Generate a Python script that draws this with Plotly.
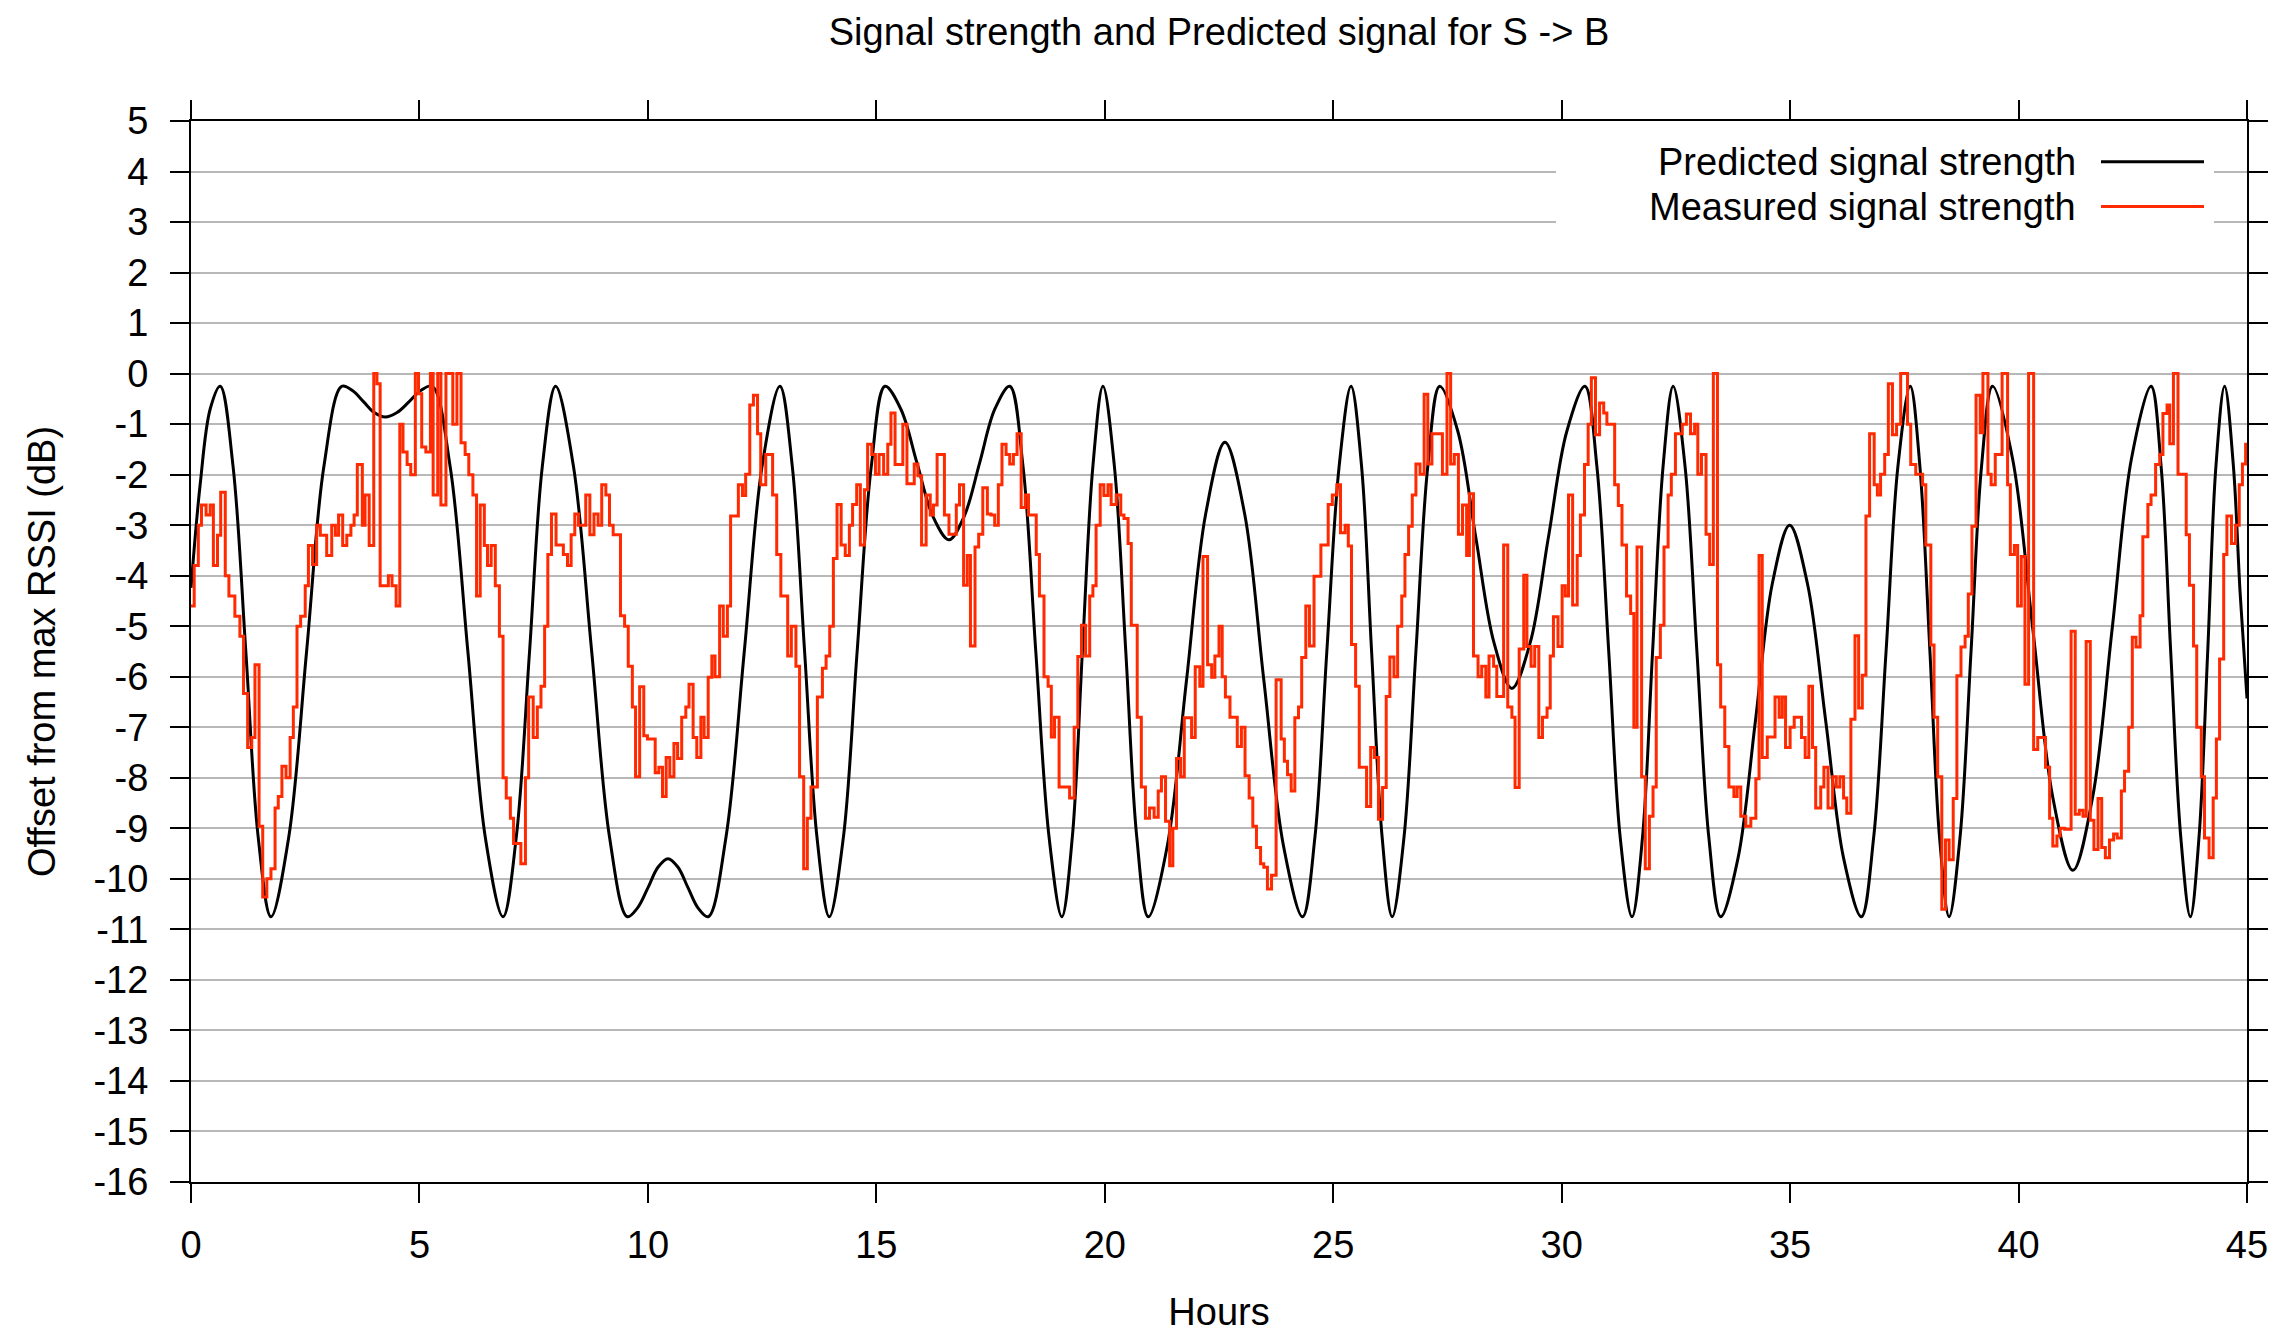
import plotly.graph_objects as go

# ---------------- data ----------------
PRED_HOURS = [0.00, 0.20, 0.42, 0.64, 0.92, 1.20, 1.47, 1.75, 2.14, 2.53, 2.91, 3.30, 3.54, 3.78, 4.01, 4.25,
              4.51, 4.77, 5.02, 5.28, 5.67, 6.06, 6.44, 6.83, 7.12, 7.41, 7.69, 7.98, 8.37, 8.77, 9.16, 9.55,
              9.77, 10.00, 10.22, 10.44, 10.66, 10.88, 11.10, 11.32, 11.71, 12.11, 12.50, 12.89, 13.16, 13.43,
              13.70, 13.97, 14.28, 14.58, 14.89, 15.19, 15.54, 15.89, 16.24, 16.59, 16.92, 17.26, 17.59, 17.92,
              18.21, 18.49, 18.78, 19.06, 19.29, 19.51, 19.74, 19.96, 20.21, 20.46, 20.70, 20.95, 21.37, 21.79,
              22.21, 22.63, 23.06, 23.48, 23.91, 24.33, 24.60, 24.86, 25.13, 25.39, 25.62, 25.84, 26.07, 26.29,
              26.55, 26.81, 27.07, 27.33, 27.73, 28.12, 28.52, 28.91, 29.31, 29.71, 30.11, 30.51, 30.77, 31.03,
              31.28, 31.54, 31.77, 31.99, 32.22, 32.44, 32.70, 32.96, 33.22, 33.48, 33.86, 34.24, 34.61, 34.99,
              35.38, 35.78, 36.17, 36.56, 36.83, 37.10, 37.36, 37.63, 37.84, 38.06, 38.27, 38.48, 38.72, 38.96,
              39.19, 39.43, 39.87, 40.31, 40.75, 41.19, 41.62, 42.05, 42.47, 42.90, 43.12, 43.33, 43.55, 43.76,
              43.95, 44.14, 44.32, 44.51, 44.70, 44.85, 45.00]
PRED_DB = [-4.24, -2.2, -0.7, -0.25, -1.83, -5.5, -9.17, -10.75, -9.17, -5.5, -1.83, -0.25, -0.34, -0.56, -0.77, -0.86,
           -0.77, -0.56, -0.34, -0.25, -1.83, -5.5, -9.17, -10.75, -9.17, -5.5, -1.83, -0.25, -1.83, -5.5, -9.17, -10.75,
           -10.58, -10.18, -9.77, -9.60, -9.77, -10.18, -10.58, -10.75, -9.17, -5.5, -1.83, -0.25, -1.83, -5.5,
           -9.17, -10.75, -9.17, -5.5, -1.83, -0.25, -0.71, -1.77, -2.83, -3.29, -2.83, -1.77, -0.71, -0.25,
           -1.83, -5.5, -9.17, -10.75, -9.17, -5.5, -1.83, -0.25, -1.83, -5.5, -9.17, -10.75, -9.34, -6.06,
           -2.77, -1.36, -2.77, -6.06, -9.34, -10.75, -9.17, -5.5, -1.83, -0.25, -1.83, -5.5, -9.17, -10.75,
           -9.17, -5.5, -1.83, -0.25, -1.15, -3.24, -5.33, -6.23, -5.33, -3.24, -1.15, -0.25, -1.83, -5.5,
           -9.17, -10.75, -9.17, -5.5, -1.83, -0.25, -1.83, -5.5, -9.17, -10.75, -9.59, -6.88, -4.16, -3.00,
           -4.16, -6.88, -9.59, -10.75, -9.17, -5.5, -1.83, -0.25, -1.83, -5.5, -9.17, -10.75, -9.17, -5.5,
           -1.83, -0.25, -1.69, -5.04, -8.39, -9.83, -8.39, -5.04, -1.69, -0.25, -1.83, -5.5, -9.17, -10.75,
           -9.17, -5.5, -1.83, -0.25, -1.8, -4.35, -6.43]

MEAS_HOURS = [0.00, 0.07, 0.16, 0.23, 0.33, 0.42, 0.49, 0.58, 0.65, 0.75, 0.83, 0.96, 1.07, 1.15, 1.24, 1.33, 1.40,
              1.49, 1.57, 1.66, 1.75, 1.84, 1.91, 1.99, 2.08, 2.17, 2.24, 2.32, 2.40, 2.50, 2.57, 2.66, 2.75, 2.83,
              2.97, 3.08, 3.16, 3.23, 3.32, 3.41, 3.50, 3.57, 3.64, 3.75, 3.81, 3.90, 4.00, 4.07, 4.14, 4.32, 4.40,
              4.49, 4.57, 4.64, 4.73, 4.81, 4.91, 4.98, 5.05, 5.14, 5.24, 5.30, 5.40, 5.47, 5.58, 5.73, 5.82, 5.91,
              6.00, 6.08, 6.17, 6.25, 6.33, 6.42, 6.49, 6.57, 6.66, 6.75, 6.83, 6.90, 6.99, 7.06, 7.22, 7.32, 7.39,
              7.49, 7.58, 7.66, 7.74, 7.81, 7.89, 7.99, 8.15, 8.24, 8.32, 8.40, 8.48, 8.64, 8.73, 8.82, 8.91, 8.99,
              9.08, 9.16, 9.24, 9.40, 9.49, 9.57, 9.66, 9.73, 9.82, 9.91, 9.99, 10.16, 10.24, 10.32, 10.40, 10.48,
              10.57, 10.65, 10.74, 10.83, 10.90, 10.99, 11.07, 11.16, 11.23, 11.32, 11.40, 11.47, 11.57, 11.65,
              11.74, 11.81, 11.98, 12.07, 12.14, 12.23, 12.31, 12.40, 12.47, 12.58, 12.73, 12.82, 12.91, 13.06,
              13.14, 13.24, 13.32, 13.41, 13.49, 13.57, 13.71, 13.82, 13.90, 13.98, 14.06, 14.14, 14.23, 14.32,
              14.41, 14.48, 14.57, 14.65, 14.74, 14.81, 14.90, 14.98, 15.06, 15.16, 15.25, 15.32, 15.41, 15.58,
              15.67, 15.83, 15.91, 15.99, 16.09, 16.18, 16.25, 16.33, 16.49, 16.59, 16.75, 16.82, 16.91, 16.99,
              17.06, 17.16, 17.24, 17.33, 17.43, 17.51, 17.59, 17.67, 17.75, 17.84, 17.92, 18.00, 18.08, 18.17,
              18.26, 18.33, 18.50, 18.57, 18.67, 18.76, 18.83, 18.90, 19.00, 19.23, 19.33, 19.41, 19.49, 19.58,
              19.67, 19.74, 19.81, 19.90, 19.98, 20.07, 20.14, 20.25, 20.35, 20.42, 20.51, 20.58, 20.71, 20.80,
              20.89, 20.98, 21.08, 21.17, 21.24, 21.33, 21.42, 21.49, 21.57, 21.66, 21.74, 21.90, 21.98, 22.08,
              22.15, 22.25, 22.34, 22.41, 22.50, 22.57, 22.64, 22.74, 22.90, 22.99, 23.07, 23.16, 23.24, 23.32,
              23.41, 23.48, 23.56, 23.65, 23.75, 23.86, 23.93, 24.00, 24.08, 24.16, 24.24, 24.31, 24.40, 24.48,
              24.58, 24.73, 24.89, 24.98, 25.08, 25.16, 25.26, 25.33, 25.40, 25.49, 25.57, 25.73, 25.82, 25.90,
              25.99, 26.08, 26.16, 26.24, 26.33, 26.41, 26.50, 26.57, 26.65, 26.73, 26.81, 26.90, 26.99, 27.07,
              27.16, 27.39, 27.49, 27.57, 27.65, 27.74, 27.83, 27.92, 27.98, 28.07, 28.17, 28.25, 28.34, 28.41,
              28.51, 28.58, 28.73, 28.82, 28.91, 28.98, 29.07, 29.17, 29.24, 29.33, 29.41, 29.50, 29.58, 29.68,
              29.75, 29.82, 29.92, 30.01, 30.08, 30.15, 30.24, 30.34, 30.41, 30.50, 30.58, 30.65, 30.74, 30.83,
              30.92, 30.99, 31.16, 31.24, 31.32, 31.42, 31.51, 31.58, 31.65, 31.75, 31.83, 31.92, 32.00, 32.07,
              32.16, 32.24, 32.33, 32.40, 32.49, 32.64, 32.73, 32.82, 32.91, 32.98, 33.06, 33.16, 33.24, 33.32,
              33.41, 33.48, 33.57, 33.66, 33.77, 33.84, 33.92, 34.03, 34.14, 34.25, 34.32, 34.39, 34.50, 34.67,
              34.76, 34.83, 34.90, 35.00, 35.09, 35.25, 35.33, 35.41, 35.49, 35.56, 35.67, 35.74, 35.83, 35.93,
              36.01, 36.09, 36.17, 36.24, 36.33, 36.42, 36.50, 36.58, 36.66, 36.74, 36.84, 36.91, 36.98, 37.07,
              37.15, 37.24, 37.33, 37.42, 37.57, 37.64, 37.75, 37.90, 37.97, 38.08, 38.15, 38.23, 38.32, 38.40,
              38.48, 38.57, 38.65, 38.74, 38.83, 38.90, 38.98, 39.07, 39.16, 39.22, 39.33, 39.40, 39.49, 39.64,
              39.76, 39.82, 39.91, 39.98, 40.06, 40.14, 40.22, 40.33, 40.42, 40.59, 40.68, 40.75, 40.84, 40.91,
              41.01, 41.15, 41.24, 41.33, 41.41, 41.48, 41.57, 41.65, 41.74, 41.82, 41.90, 41.99, 42.08, 42.16,
              42.25, 42.32, 42.41, 42.49, 42.57, 42.66, 42.72, 42.83, 42.90, 43.00, 43.09, 43.16, 43.25, 43.31,
              43.39, 43.49, 43.67, 43.74, 43.83, 43.90, 44.00, 44.07, 44.17, 44.26, 44.33, 44.40, 44.49, 44.56,
              44.66, 44.75, 44.83, 44.90, 44.97, 45.00]
MEAS_DB = [-4.6, -3.8, -3.0, -2.6, -2.8, -2.6, -3.8, -3.2, -2.35, -4.0, -4.4, -4.8, -5.2, -6.33, -7.4, -7.2, -5.76,
           -8.96, -10.36, -10.0, -9.8, -8.6, -8.37, -7.77, -8.0, -7.2, -6.6, -5.0, -4.8, -4.2, -3.4, -3.78, -3.0, -3.2,
           -3.6, -3.0, -3.2, -2.8, -3.4, -3.2, -3.0, -2.8, -1.8, -3.0, -2.4, -3.4, 0.0, -0.2, -4.2, -4.0, -4.2,
           -4.6, -1.0, -1.55, -1.8, -2.0, 0.0, -0.4, -1.45, -1.55, 0.0, -2.4, 0.0, -2.6, 0.0, -1.0, 0.0, -1.37,
           -1.6, -2.0, -2.4, -4.4, -2.6, -3.4, -3.8, -3.4, -4.2, -5.2, -8.0, -8.4, -8.8, -9.3, -9.7, -8.0, -6.4,
           -7.2, -6.6, -6.19, -5.0, -3.58, -2.78, -3.39, -3.58, -3.8, -3.19, -2.78, -3.0, -2.4, -3.19, -2.78, -3.0, -2.2,
           -2.4, -3.0, -3.19, -4.79, -5.0, -5.79, -6.6, -7.98, -6.2, -7.17, -7.23, -7.9, -7.79, -8.37, -7.6, -7.98,
           -7.32, -7.62, -6.8, -6.6, -6.15, -7.2, -7.6, -6.8, -7.2, -6.01, -5.59, -6.0, -4.6, -5.2,
           -4.6, -2.82, -2.2, -2.41, -1.99, -0.62, -0.43, -1.19, -2.2, -1.6, -2.4, -3.58, -4.4, -5.59,
           -5.0, -5.79, -7.98, -9.8, -8.8, -8.18, -6.4, -5.83, -5.59, -5.0, -3.66, -2.59, -3.39, -3.6,
           -3.0, -2.59, -2.2, -3.39, -2.3, -1.4, -1.6, -1.99, -1.6, -1.99, -1.4, -0.78, -1.8, -1.0,
           -2.18, -1.79, -2.02, -3.39, -2.4, -2.8, -2.6, -1.6, -2.8, -3.18, -2.6, -2.2, -4.19, -3.6,
           -5.39, -3.43, -3.18, -2.26, -2.78, -2.8, -3.0, -2.2, -1.4, -1.6, -1.79, -1.6, -1.19, -2.65,
           -2.4, -2.8, -3.58, -4.4, -6.0, -6.19, -7.19, -6.8, -8.18, -8.4, -7.0, -5.6, -4.98, -5.59,
           -4.4, -4.2, -3.0, -2.2, -2.41, -2.2, -2.59, -2.4, -2.8, -2.87, -3.36, -4.98, -6.8, -8.18,
           -8.8, -8.6, -8.78, -8.26, -7.98, -8.86, -9.74, -9.0, -7.62, -7.98, -6.81, -7.2, -5.8, -6.19,
           -3.62, -5.76, -6.01, -5.59, -5.0, -6.0, -6.4, -6.8, -7.38, -7.0, -7.96, -8.4, -8.96, -9.38,
           -9.7, -9.77, -10.2, -9.93, -6.06, -7.23, -7.67, -7.94, -8.26, -6.81, -6.6, -5.62, -4.6, -5.39,
           -4.01, -3.39, -2.59, -2.4, -2.2, -3.15, -3.0, -3.41, -5.36, -6.19, -7.79, -8.57, -7.4, -7.6,
           -8.82, -8.19, -6.39, -5.61, -6.0, -5.0, -4.4, -3.58, -3.02, -2.4, -1.79, -1.99, -0.41, -1.79,
           -1.19, -1.99, 0.0, -1.79, -1.6, -3.18, -2.6, -3.6, -2.38, -5.59, -6.0, -5.79, -6.4, -5.59,
           -5.79, -6.39, -3.39, -6.6, -6.8, -8.19, -5.45, -3.99, -5.4, -5.79, -5.4, -7.2, -6.8, -6.62,
           -5.59, -4.81, -5.4, -4.2, -4.4, -2.4, -4.58, -3.6, -2.8, -1.8, -1.0, -0.08, -1.21, -0.58,
           -0.78, -1.0, -2.2, -2.61, -3.39, -4.4, -4.75, -7.0, -3.43, -7.98, -9.8, -8.76, -8.18, -5.62,
           -4.98, -3.43, -2.4, -1.99, -1.19, -1.0, -0.8, -1.19, -1.0, -1.99, -1.6, -3.18, -3.78, 0.0,
           -5.76, -6.6, -7.38, -8.18, -8.37, -8.18, -8.76, -8.96, -8.8, -8.02, -3.6, -7.6, -7.19, -6.4,
           -6.8, -6.4, -7.4, -7.0, -6.8, -7.2, -7.6, -6.19, -7.4, -8.6, -8.18, -7.79, -8.6, -7.98,
           -8.18, -7.98, -8.4, -8.7, -6.84, -5.19, -6.62, -5.97, -2.82, -1.19, -2.2, -2.4, -1.99, -1.6,
           -0.2, -1.21, -1.0, 0.0, -1.0, -1.8, -1.99, -2.2, -3.39, -5.37, -6.8, -7.98, -10.6, -9.23,
           -9.62, -8.41, -5.98, -5.41, -5.2, -4.36, -3.02, -0.43, -1.17, 0.0, -1.99, -2.2, -1.6, 0.0,
           -2.2, -3.58, -3.4, -4.6, -3.62, -6.15, 0.0, -7.44, -7.2, -7.79, -8.8, -9.35, -9.15, -9.0,
           -9.02, -5.1, -8.72, -8.64, -8.76, -5.3, -8.84, -9.42, -8.41, -9.38, -9.58, -9.23, -9.11, -9.19,
           -8.26, -7.87, -7.0, -5.22, -5.41, -4.79, -3.23, -2.59, -2.4, -1.8, -1.6, -0.79, -0.62, -1.39,
           0.0, -1.99, -3.19, -4.19, -5.39, -7.0, -7.98, -9.19, -9.58, -8.4, -7.23, -5.65, -3.58, -2.82,
           -3.36, -3.0, -2.2, -1.79, -1.4, -1.4]

X_TICKS = [0, 5, 10, 15, 20, 25, 30, 35, 40, 45]
Y_TICKS = list(range(-16, 6))
Y_TICK_TEXT = [str(v) for v in Y_TICKS]   # plain hyphen-minus like the original

TITLE = "Signal strength and Predicted signal for S -> B"
X_LABEL = "Hours"
Y_LABEL = "Offset from max RSSI (dB)"
SERIES_NAMES = ["Predicted signal strength", "Measured signal strength"]
COLORS = ["#000000", "#ff2a00"]

FONT = "Liberation Sans, Arial, Helvetica, sans-serif"
FS = 38
LW = 3.0

# ---------------- figure ----------------
fig = go.Figure()
fig.add_trace(go.Scatter(x=PRED_HOURS, y=PRED_DB, mode="lines", name=SERIES_NAMES[0],
                         line=dict(color=COLORS[0], width=LW, shape="spline", smoothing=1.0)))
fig.add_trace(go.Scatter(x=MEAS_HOURS, y=MEAS_DB, mode="lines", name=SERIES_NAMES[1],
                         line=dict(color=COLORS[1], width=LW, shape="hv")))

# the page body has an 8px margin, so the figure starts at (8, 8) on screen
OFF = 8
W, H = 2286, 1330
L, R, T, B = 183, 47, 113, 150
pw, ph = W - L - R, H - T - B


def px2paper(x, y):
    """screen pixel position -> paper coordinates"""
    return (x - OFF - L) / pw, (H + OFF - B - y) / ph


axis_common = dict(showline=True, linecolor="black", linewidth=2, mirror="ticks",
                   ticks="outside", ticklen=19, tickwidth=2, tickcolor="black",
                   tickfont=dict(family=FONT, size=FS, color="black"),
                   zeroline=False)

fig.update_xaxes(range=[0, 45], tickvals=X_TICKS, showgrid=False, ticklabelstandoff=9,
                 title=dict(text=X_LABEL, font=dict(family=FONT, size=FS, color="black"), standoff=34),
                 **axis_common)
fig.update_yaxes(range=[-16, 5], tickvals=Y_TICKS, ticktext=Y_TICK_TEXT, showgrid=True,
                 gridcolor="#b8b8b8", gridwidth=1.5, ticklabelstandoff=14,
                 title=dict(text=Y_LABEL, font=dict(family=FONT, size=FS, color="black"), standoff=26),
                 **axis_common)

# legend box (text left, line sample right, like the original)
x0, y0 = px2paper(1556, 140)
x1, y1 = px2paper(2214, 245)
shapes = [dict(type="rect", xref="paper", yref="paper", x0=x0, y0=y1, x1=x1, y1=y0,
               fillcolor="white", line=dict(width=0), layer="above")]
annotations = []
for i, (name, col) in enumerate(zip(SERIES_NAMES, COLORS)):
    ypx = 162 + i * 45
    tx, ty = px2paper(2078, ypx)
    annotations.append(dict(text=name, xref="paper", yref="paper", x=tx, y=ty, xanchor="right",
                            yanchor="middle", showarrow=False,
                            font=dict(family=FONT, size=FS, color="black")))
    lx0, ly = px2paper(2101, ypx)
    lx1, _ = px2paper(2204, ypx)
    shapes.append(dict(type="line", xref="paper", yref="paper", x0=lx0, x1=lx1, y0=ly, y1=ly,
                       line=dict(color=col, width=LW), layer="above"))

fig.update_layout(
    width=W, height=H, autosize=False,
    margin=dict(l=L, r=R, t=T, b=B),
    paper_bgcolor="white", plot_bgcolor="white",
    showlegend=False,
    title=dict(text=TITLE, x=(1219 - OFF) / W, xanchor="center", y=1 - (32 - OFF) / H, yanchor="middle",
               yref="container", font=dict(family=FONT, size=FS, color="black")),
    shapes=shapes, annotations=annotations,
)

fig.write_html("out.html")
